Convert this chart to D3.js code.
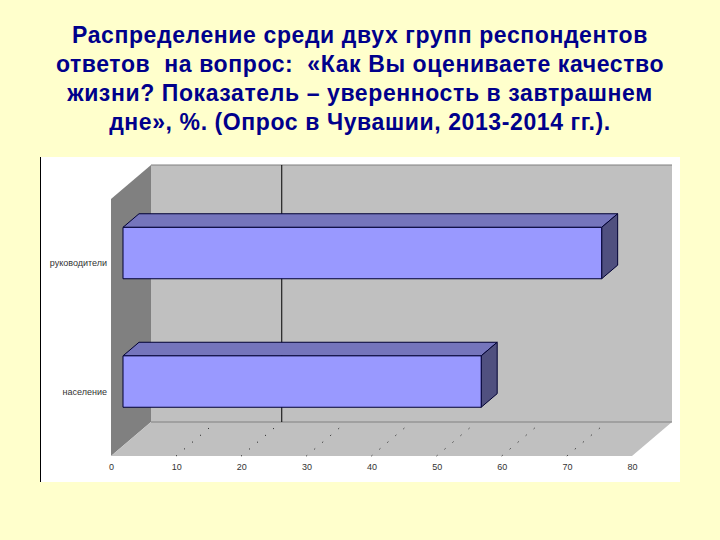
<!DOCTYPE html>
<html><head><meta charset="utf-8">
<script src="https://d3js.org/d3.v7.min.js"></script>
<style>html,body{margin:0;padding:0;background:#FFFFCC;overflow:hidden}svg{display:block}</style>
</head><body><svg id="c" width="720" height="540"></svg>
<script>
const titleLines = [
  "Распределение среди двух групп респондентов",
  "ответов  на вопрос:  «Как Вы оцениваете качество",
  "жизни? Показатель – уверенность в завтрашнем",
  "дне», %. (Опрос в Чувашии, 2013-2014 гг.)."
];
const categories = ["руководители", "население"];
const values = [73.5, 55];
const tickValues = [0, 10, 20, 30, 40, 50, 60, 70, 80];
const markedGridValue = [20];

const svg = d3.select("#c");
const depthX = 40, depthY = -34;
const x = d3.scaleLinear().domain([0, 80]).range([111, 632]);
const y = d3.scaleBand().domain(categories).range([199, 456]).paddingInner(0.6).paddingOuter(0.3);
const barFront = 0.3, barBack = 0.7;
const pt = (px, py, t) => [px + depthX * t, py + depthY * t];
const poly = pts => pts.map(p => p.join(",")).join(" ");

svg.append("rect").attr("x", 40).attr("y", 157).attr("width", 640).attr("height", 325).attr("fill", "#fff");
svg.append("line").attr("x1", 40.5).attr("x2", 40.5).attr("y1", 157).attr("y2", 482).attr("stroke", "#000").attr("stroke-width", 1);

const [x0, x1] = x.range(), [yT, yB] = y.range();
// walls
svg.append("polygon").attr("fill", "#c0c0c0")
  .attr("points", poly([pt(x0, yT, 1), pt(x1, yT, 1), pt(x1, yB, 1), pt(x0, yB, 1)]));
svg.append("polygon").attr("fill", "#808080")
  .attr("points", poly([pt(x0, yT, 0), pt(x0, yT, 1), pt(x0, yB, 1), pt(x0, yB, 0)]));
svg.append("polygon").attr("fill", "#c0c0c0")
  .attr("points", poly([pt(x0, yB, 0), pt(x1, yB, 0), pt(x1, yB, 1), pt(x0, yB, 1)]));
svg.append("line").attr("stroke", "#808080").attr("stroke-width", 1.2)
  .attr("x1", pt(x0, yT, 1)[0]).attr("y1", pt(x0, yT, 1)[1]).attr("x2", pt(x1, yT, 1)[0]).attr("y2", pt(x1, yT, 1)[1]);
svg.append("line").attr("stroke", "#808080").attr("stroke-width", 1.2)
  .attr("x1", pt(x0, yB, 1)[0]).attr("y1", pt(x0, yB, 1)[1]).attr("x2", pt(x1, yB, 1)[0]).attr("y2", pt(x1, yB, 1)[1]);

// floor dotted grid
svg.append("g").selectAll("line").data(tickValues.slice(1, -1)).join("line")
  .attr("x1", d => x(d)).attr("y1", yB).attr("x2", d => pt(x(d), yB, 1)[0]).attr("y2", pt(0, yB, 1)[1])
  .attr("stroke", "#000").attr("stroke-width", 1).attr("stroke-dasharray", "1 9.5");

// back wall grid line
svg.append("g").selectAll("line").data(markedGridValue).join("line")
  .attr("x1", d => pt(x(d), yT, 1)[0] + 0.5).attr("y1", pt(0, yT, 1)[1])
  .attr("x2", d => pt(x(d), yB, 1)[0] + 0.5).attr("y2", pt(0, yB, 1)[1])
  .attr("stroke", "#000").attr("stroke-width", 1);

// bars
const stroke = "#000033";
const bars = svg.append("g").selectAll("g").data(categories.map((c, i) => ({c, v: values[i]}))).join("g")
  .attr("stroke", stroke).attr("stroke-width", 1).attr("stroke-linejoin", "round");
bars.append("polygon").attr("fill", "#7575BC").attr("points", d => {
  const a = x(0), b = x(d.v), t = y(d.c);
  return poly([pt(a, t, barFront), pt(b, t, barFront), pt(b, t, barBack), pt(a, t, barBack)]);
});
bars.append("polygon").attr("fill", "#50507F").attr("points", d => {
  const b = x(d.v), t = y(d.c), h = y.bandwidth();
  return poly([pt(b, t, barFront), pt(b, t, barBack), pt(b, t + h, barBack), pt(b, t + h, barFront)]);
});
bars.append("polygon").attr("fill", "#9999FF").attr("points", d => {
  const a = x(0), b = x(d.v), t = y(d.c), h = y.bandwidth();
  return poly([pt(a, t, barFront), pt(b, t, barFront), pt(b, t + h, barFront), pt(a, t + h, barFront)]);
});

// axes
const axX = svg.append("g").attr("transform", `translate(0,${yB})`)
  .call(d3.axisBottom(x).tickValues(tickValues).tickSize(0).tickPadding(8));
axX.select(".domain").remove();
axX.selectAll("text").attr("font-family", "Liberation Sans, Arial, sans-serif").attr("font-size", 9).attr("fill", "#333");
const axY = svg.append("g").attr("transform", `translate(${x0 - 4},0)`)
  .call(d3.axisLeft(y).tickSize(0).tickPadding(0));
axY.select(".domain").remove();
axY.selectAll("text").attr("font-family", "Liberation Sans, Arial, sans-serif").attr("font-size", 9).attr("fill", "#333");

// title
svg.append("g").selectAll("text").data(titleLines).join("text")
  .attr("x", 360).attr("y", (d, i) => 43 + i * 29)
  .attr("text-anchor", "middle")
  .attr("font-family", "Liberation Sans, Arial, sans-serif").attr("font-size", 23).attr("font-weight", "bold")
  .attr("letter-spacing", 0.6)
  .attr("fill", "#00008B")
  .style("white-space", "pre")
  .text(d => d);
</script></body></html>
